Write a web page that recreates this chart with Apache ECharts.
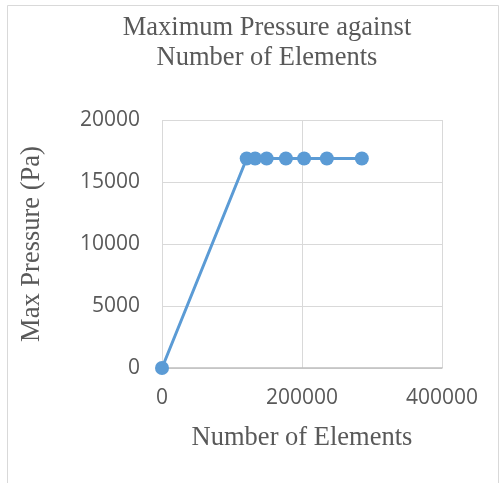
<!DOCTYPE html>
<html>
<head>
<meta charset="utf-8">
<script src="https://cdn.jsdelivr.net/npm/echarts@6/dist/echarts.min.js"></script>
<style>
  html, body { margin: 0; padding: 0; background: #fff; }
  #chart { width: 503px; height: 483px; }
</style>
</head>
<body>
<div id="chart"></div>
<script>
// Mesh convergence: number of elements vs. maximum pressure
const elements = [0, 121000, 133000, 149500, 177000, 203000, 235500, 285500];
const maxPressure = [0, 16900, 16900, 16900, 16900, 16900, 16900, 16900];
const xTicks = [0, 200000, 400000];
const yTicks = [0, 5000, 10000, 15000, 20000];

const serif = '"Liberation Serif", "DejaVu Serif", serif';
const sans = '"Open Sans", "Liberation Sans", sans-serif';

const chart = echarts.init(document.getElementById('chart'));
chart.setOption({
  animation: false,
  backgroundColor: '#ffffff',
  graphic: [{
    type: 'rect',
    shape: { x: 7.5, y: 5.5, width: 491, height: 490 },
    style: { fill: 'none', stroke: '#d9d9d9', lineWidth: 1 },
    silent: true
  }],
  title: {
    text: 'Maximum Pressure against\nNumber of Elements',
    left: 262, top: 8, textAlign: 'center',
    textStyle: { fontFamily: serif, fontSize: 26.5, fontWeight: 'normal', color: '#595959', lineHeight: 30 }
  },
  grid: { left: 162, right: 61, top: 120, bottom: 115 },
  xAxis: {
    type: 'value',
    min: xTicks[0], max: xTicks[xTicks.length - 1], interval: 200000,
    name: 'Number of Elements', nameLocation: 'middle', nameGap: 57,
    nameTextStyle: { fontFamily: serif, fontSize: 26.5, color: '#595959' },
    axisLine: { show: true, lineStyle: { color: '#bfbfbf', width: 1.5 } },
    axisTick: { show: false },
    axisLabel: { fontFamily: sans, fontSize: 21, color: '#595959', margin: 20, formatter: v => String(v) },
    splitLine: { show: true, lineStyle: { color: '#d9d9d9', width: 1 } }
  },
  yAxis: {
    type: 'value',
    min: yTicks[0], max: yTicks[yTicks.length - 1], interval: 5000,
    name: 'Max Pressure (Pa)', nameLocation: 'middle', nameGap: 116, nameRotate: 90,
    nameTextStyle: { fontFamily: serif, fontSize: 26.5, color: '#595959' },
    axisLine: { show: false },
    axisTick: { show: false },
    axisLabel: { fontFamily: sans, fontSize: 21, color: '#595959', margin: 22, formatter: v => String(v) },
    splitLine: { show: true, lineStyle: { color: '#d9d9d9', width: 1 } }
  },
  series: [{
    type: 'line',
    data: elements.map((x, i) => [x, maxPressure[i]]),
    symbol: 'circle', symbolSize: 14,
    lineStyle: { color: '#5b9bd5', width: 3 },
    itemStyle: { color: '#5b9bd5' }
  }]
});
</script>
</body>
</html>
